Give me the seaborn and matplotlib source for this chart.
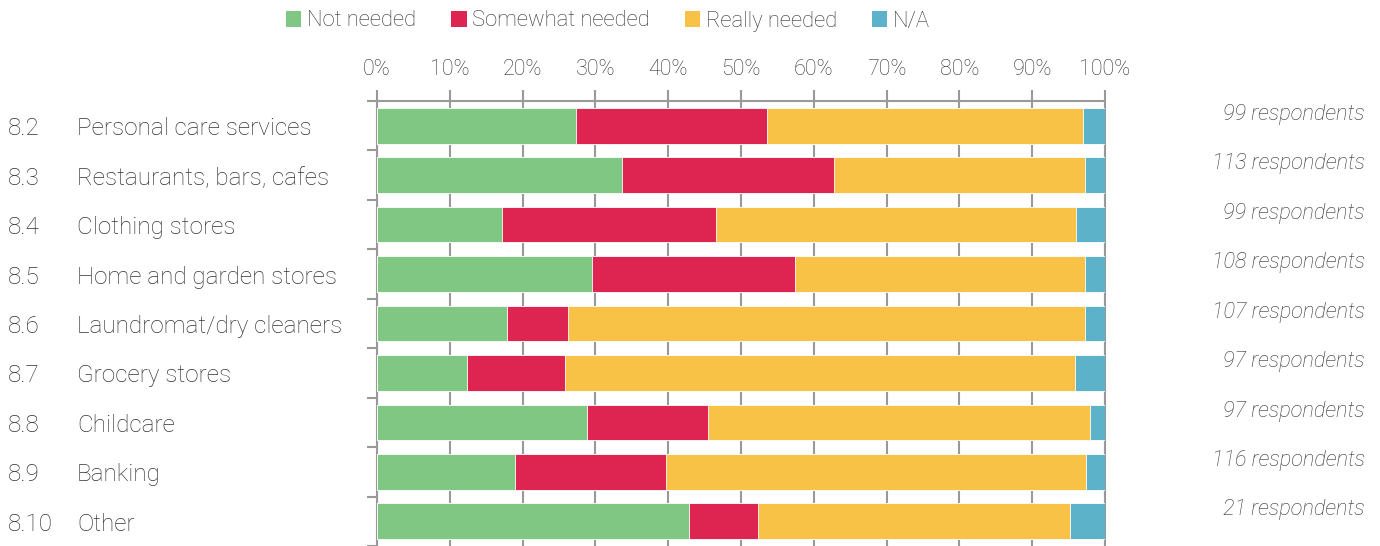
import matplotlib
matplotlib.use("Agg")
import matplotlib.pyplot as plt
import matplotlib.transforms as mtransforms
from matplotlib.patches import Patch
import numpy as np
import pandas as pd
import seaborn as sns

codes = ["8.2", "8.3", "8.4", "8.5", "8.6", "8.7", "8.8", "8.9", "8.10"]
categories = ["Personal care services", "Restaurants, bars, cafes", "Clothing stores",
              "Home and garden stores", "Laundromat/dry cleaners", "Grocery stores",
              "Childcare", "Banking", "Other"]
not_needed = [27.3, 33.6, 17.2, 29.6, 17.8, 12.4, 28.9, 19.0, 42.9]
somewhat_needed = [26.3, 29.2, 29.3, 27.8, 8.4, 13.4, 16.5, 20.7, 9.5]
really_needed = [43.4, 34.5, 49.5, 39.8, 71.0, 70.1, 52.5, 57.7, 42.8]
na = [3.0, 2.7, 4.0, 2.8, 2.8, 4.1, 2.1, 2.6, 4.8]
respondents = [99, 113, 99, 108, 107, 97, 97, 116, 21]
series_names = ["Not needed", "Somewhat needed", "Really needed", "N/A"]
colors = ["#81C784", "#DE2552", "#F8C246", "#5BB2C9"]
xtick_vals = [0, 10, 20, 30, 40, 50, 60, 70, 80, 90, 100]
xtick_labels = [f"{v}%" for v in xtick_vals]

sns.set_style("white")
plt.rcParams["font.family"] = ["Roboto", "DejaVu Sans"]
plt.rcParams["font.weight"] = "light"

fig = plt.figure(figsize=(13.8, 5.46), dpi=100)
ax = fig.add_axes([377 / 1380, 0.0, 728 / 1380, 1 - 101 / 546])

gray = "#999999"
text_col = "#333333"

df = pd.DataFrame({"category": categories, "s0": not_needed, "s1": somewhat_needed,
                   "s2": really_needed, "s3": na})
cum = df[["s0", "s1", "s2", "s3"]].cumsum(axis=1)

# overlay cumulative bars from the largest to the smallest
for i in [3, 2, 1, 0]:
    sns.barplot(data=pd.DataFrame({"category": categories, "v": cum[f"s{i}"]}),
                x="v", y="category", orient="h", color=colors[i], width=0.72,
                ax=ax, saturation=1, edgecolor="white", linewidth=0.6, zorder=3)

ax.set_xlim(0, 100)
ax.set_ylim(8.44, -0.5)
ax.set_xlabel("")
ax.set_ylabel("")

ax.xaxis.tick_top()
ax.set_xticks(xtick_vals)
ax.set_xticklabels(xtick_labels, fontsize=15.5, color=text_col, fontweight="light")
ax.tick_params(axis="x", which="major", direction="out", length=8, width=1.5,
               color=gray, pad=7, top=True, bottom=False)
ax.grid(axis="x", color=gray, linewidth=1.5, zorder=0)
ax.set_axisbelow(True)

ax.set_yticks(np.arange(-0.5, len(categories), 1.0))
ax.set_yticklabels([])
ax.tick_params(axis="y", direction="out", length=7, width=1.5, color=gray, left=True)

for side in ["top", "left", "right"]:
    ax.spines[side].set_visible(True)
    ax.spines[side].set_color(gray)
    ax.spines[side].set_linewidth(1.5)
ax.spines["bottom"].set_visible(False)

trans = mtransforms.blended_transform_factory(fig.transFigure, ax.transData)
for k, (c, name, n) in enumerate(zip(codes, categories, respondents)):
    ax.text(8 / 1380, k + 0.06, c, transform=trans, ha="left", va="center",
            fontsize=17.5, color=text_col, fontweight="light")
    ax.text(77 / 1380, k + 0.06, name, transform=trans, ha="left", va="center",
            fontsize=17.5, color=text_col, fontweight="light")
    ax.text(1365 / 1380, k - 0.23, f"{n} respondents", transform=trans, ha="right",
            va="center", fontsize=15.7, color=text_col, style="italic", fontweight="light")

handles = [Patch(facecolor=col, edgecolor="none") for col in colors]
fig.legend(handles, series_names, loc="center", bbox_to_anchor=(608 / 1380, 1 - 21 / 546),
           ncol=4, frameon=False, handlelength=0.7, handleheight=0.7,
           handletextpad=0.25, columnspacing=1.6, labelcolor=text_col,
           prop={"family": ["Roboto", "DejaVu Sans"], "weight": "light", "size": 15.8})

fig.savefig("out.png", dpi=100)
